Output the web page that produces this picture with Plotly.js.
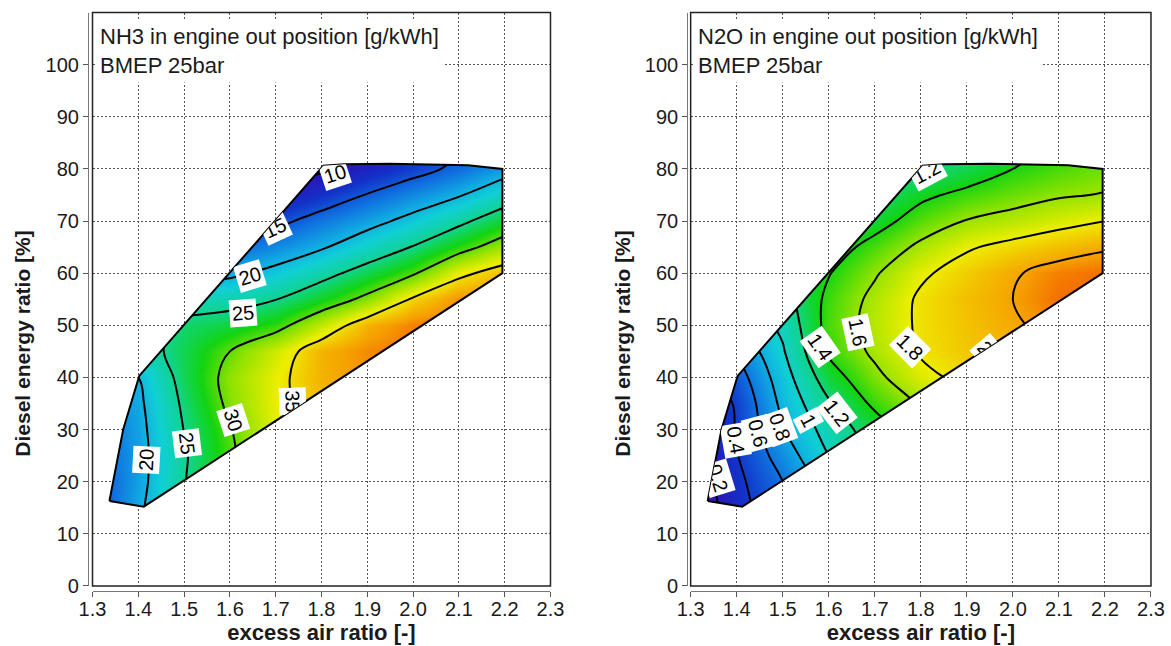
<!DOCTYPE html>
<html>
<head>
<meta charset="utf-8">
<script src="https://cdn.plot.ly/plotly-3.0.1.min.js"></script>
<style>
html,body{margin:0;padding:0;background:#ffffff;}
#plot{width:1171px;height:646px;}
</style>
</head>
<body>
<div id="plot"></div>
<script>
// ---------------- data ----------------
const airRatioGrid = [1.3, 1.4, 1.5, 1.6, 1.7, 1.8, 1.9, 2.0, 2.1, 2.2];
const dieselRatioGrid = [10, 15, 20, 25, 30, 35, 40, 45, 50, 55, 60, 65, 70, 75, 80, 85];

// NH3 engine out [g/kWh]; one row per diesel energy ratio, one column per excess air ratio
const nh3Values = [
  [13.0, 19.5, 24.3, 28.8, 32.0, 36.0, 37.0, 37.5, 38.0, 38.0],
  [13.5, 19.3, 24.5, 29.0, 32.5, 36.0, 37.0, 37.5, 38.0, 38.0],
  [14.0, 18.7, 24.8, 29.3, 33.0, 36.0, 37.0, 37.5, 38.0, 38.0],
  [14.5, 18.6, 24.6, 29.4, 33.5, 36.0, 37.0, 37.5, 38.0, 38.0],
  [15.0, 18.8, 25.1, 29.8, 34.0, 36.5, 37.5, 38.0, 38.5, 38.5],
  [16.0, 19.2, 25.7, 30.8, 34.2, 36.5, 37.5, 38.0, 38.5, 38.5],
  [17.0, 20.0, 26.5, 31.2, 34.2, 36.8, 38.0, 38.5, 39.0, 39.0],
  [20.0, 23.0, 26.6, 30.0, 33.2, 36.8, 38.2, 39.0, 39.5, 39.0],
  [20.0, 23.0, 25.9, 27.0, 28.8, 32.8, 36.8, 38.5, 39.0, 38.5],
  [19.0, 21.0, 23.0, 23.4, 24.9, 27.7, 30.9, 35.4, 38.0, 38.5],
  [16.0, 17.0, 18.0, 19.2, 21.1, 23.7, 26.6, 29.6, 34.2, 36.5],
  [14.0, 14.5, 15.0, 15.5, 17.5, 19.6, 22.4, 25.2, 28.6, 31.9],
  [11.5, 12.0, 12.5, 13.0, 14.0, 16.5, 18.7, 21.2, 24.1, 27.5],
  [10.0, 10.0, 10.5, 10.5, 10.5, 12.7, 15.2, 17.5, 19.7, 22.8],
  [ 9.0,  9.0,  9.0,  9.0,  9.0,  9.5, 11.4, 13.6, 15.9, 18.5],
  [ 9.0,  9.0,  9.0,  9.0,  9.0,  8.5, 10.2, 12.2, 14.3, 17.0]
];

// N2O engine out [g/kWh]
const n2oValues = [
  [0.00, 0.30, 0.53, 0.80, 1.05, 1.25, 1.45, 1.60, 1.70, 1.75],
  [0.02, 0.32, 0.56, 0.85, 1.10, 1.30, 1.50, 1.65, 1.75, 1.80],
  [0.05, 0.35, 0.60, 0.90, 1.15, 1.40, 1.55, 1.70, 1.80, 1.85],
  [0.10, 0.39, 0.69, 1.00, 1.25, 1.48, 1.62, 1.75, 1.85, 1.88],
  [0.15, 0.41, 0.79, 1.08, 1.30, 1.55, 1.70, 1.80, 1.88, 1.90],
  [0.20, 0.42, 0.85, 1.18, 1.44, 1.62, 1.75, 1.85, 1.90, 1.90],
  [0.30, 0.50, 0.91, 1.31, 1.55, 1.75, 1.85, 1.90, 1.95, 1.95],
  [0.50, 0.63, 0.98, 1.43, 1.64, 1.82, 1.90, 1.95, 2.00, 2.00],
  [0.70, 0.85, 1.04, 1.47, 1.67, 1.83, 1.91, 1.98, 2.05, 2.05],
  [0.90, 1.00, 1.12, 1.45, 1.65, 1.83, 1.92, 2.00, 2.10, 2.12],
  [1.10, 1.15, 1.25, 1.39, 1.58, 1.77, 1.88, 1.98, 2.07, 2.10],
  [1.20, 1.22, 1.25, 1.30, 1.47, 1.64, 1.78, 1.855, 1.92, 1.98],
  [1.20, 1.20, 1.20, 1.27, 1.32, 1.49, 1.61, 1.67, 1.74, 1.80],
  [1.15, 1.15, 1.15, 1.15, 1.20, 1.36, 1.45, 1.52, 1.58, 1.61],
  [1.10, 1.10, 1.10, 1.10, 1.10, 1.17, 1.28, 1.40, 1.47, 1.53],
  [1.10, 1.10, 1.10, 1.10, 1.10, 1.10, 1.20, 1.32, 1.42, 1.50]
];

// measured operating-range boundary (excess air ratio, diesel energy ratio)
const boundaryAir    = [1.337, 1.412, 2.195, 2.195, 2.12, 1.95, 1.85, 1.804, 1.402, 1.367, 1.345, 1.337];
const boundaryDiesel = [16.3,  15.2,  60.0,  80.0,  80.7, 81.0, 80.9, 80.6,  40.3,  30.0,  20.0,  16.3];

const nh3Levels = {start: 10, end: 35, size: 5};
const n2oLevels = {start: 0.2, end: 2.0, size: 0.2};
const nh3ColorRange = [8, 40.5];
const n2oColorRange = [0.05, 2.2];

// contour labels as placed in the reference
const nh3LabelLevels = [10, 15, 20, 25, 20, 25, 30, 35];
const nh3LabelAir    = [1.829, 1.698, 1.644, 1.629, 1.417, 1.506, 1.607, 1.736];
const nh3LabelDiesel = [79.0, 68.7, 59.4, 52.4, 24.2, 27.4, 31.8, 35.4];
const nh3LabelAngle  = [-18, -25, -17, -4, -87, 83, 72, 88];

const n2oLabelLevels = [0.2, 0.4, 0.6, 0.8, 1.0, 1.2, 1.4, 1.6, 1.8, 2.0, 1.2];
const n2oLabelAir    = [1.359, 1.398, 1.446, 1.494, 1.555, 1.618, 1.581, 1.663, 1.776, 1.939, 1.813];
const n2oLabelDiesel = [20.7, 28.0, 29.3, 30.5, 31.8, 33.2, 45.8, 48.7, 45.8, 45.6, 79.4];
const n2oLabelAngle  = [73, 80, 75, 70, 62, 52, 55, 78, 45, 50, -28];

const xTickValues = [1.3, 1.4, 1.5, 1.6, 1.7, 1.8, 1.9, 2.0, 2.1, 2.2, 2.3];
const yTickValues = [0, 10, 20, 30, 40, 50, 60, 70, 80, 90, 100];

const panelTexts = [
  'NH3 in engine out position [g/kWh]<br>BMEP 25bar',
  'N2O in engine out position [g/kWh]<br>BMEP 25bar'
];
const xTitle = 'excess air ratio [-]';
const yTitle = 'Diesel energy ratio [%]';

const colorScale = [
  [0.00, '#6a12b4'],
  [0.07, '#2a16b8'],
  [0.15, '#1232c8'],
  [0.25, '#1070e0'],
  [0.35, '#10aee2'],
  [0.42, '#10cfd6'],
  [0.52, '#10d492'],
  [0.62, '#12d412'],
  [0.71, '#8ee200'],
  [0.81, '#eeee00'],
  [0.91, '#f6a000'],
  [1.00, '#f23c00']
];

// ---------------- figure ----------------
const FONT = 'Liberation Sans, Arial, Helvetica, sans-serif';

function contourTrace(z, levels, crange, xa, ya) {
  return {
    type: 'contour',
    x: airRatioGrid, y: dieselRatioGrid, z: z,
    xaxis: xa, yaxis: ya,
    colorscale: colorScale, zmin: crange[0], zmax: crange[1], zauto: false,
    showscale: false, autocontour: false,
    contours: {coloring: 'heatmap', start: levels.start, end: levels.end, size: levels.size, showlabels: false},
    line: {color: '#000', width: 2, smoothing: 1},
    hoverinfo: 'skip'
  };
}
function outlineTrace(xa, ya) {
  return {type: 'scatter', mode: 'lines', x: boundaryAir, y: boundaryDiesel,
    xaxis: xa, yaxis: ya, line: {color: '#000', width: 2}, hoverinfo: 'skip'};
}

const data = [
  contourTrace(nh3Values, nh3Levels, nh3ColorRange, 'x', 'y'),
  outlineTrace('x', 'y'),
  contourTrace(n2oValues, n2oLevels, n2oColorRange, 'x2', 'y2'),
  outlineTrace('x2', 'y2')
];

function xAxisDef(domain) {
  return {
    domain: domain, range: [1.3, 2.3], anchor: 'free', position: 0.0851,
    tickvals: xTickValues, ticktext: xTickValues.map(v => v.toFixed(1)),
    ticks: 'outside', ticklen: 5, tickcolor: '#555', tickwidth: 1,
    ticklabelstandoff: -5,
    showline: true, linecolor: '#777', linewidth: 1,
    showgrid: true, gridcolor: '#555', griddash: '2px,2px', gridwidth: 1,
    zeroline: false, fixedrange: true,
    tickfont: {family: FONT, size: 20, color: '#1a1a1a'},
    title: {text: xTitle, standoff: 4, font: {family: FONT, size: 22, color: '#1a1a1a', weight: 'bold'}}
  };
}
function yAxisDef(domain, pos) {
  return {
    domain: domain, range: [0, 110], anchor: 'free', position: pos,
    tickvals: yTickValues,
    ticks: 'outside', ticklen: 5, tickcolor: '#555', tickwidth: 1,
    showline: true, linecolor: '#777', linewidth: 1,
    showgrid: true, gridcolor: '#555', griddash: '2px,2px', gridwidth: 1,
    zeroline: false, fixedrange: true,
    tickfont: {family: FONT, size: 20, color: '#1a1a1a'}
  };
}

const annotations = [];
[0, 1].forEach(i => {
  annotations.push({xref: i ? 'x2 domain' : 'x domain', yref: i ? 'y2 domain' : 'y domain',
    x: 0.006, y: 0.988, xanchor: 'left', yanchor: 'top',
    text: panelTexts[i], showarrow: false, align: 'left', bgcolor: '#ffffff', borderpad: 4,
    font: {family: FONT, size: 22, color: '#1a1a1a'}});
});
[21.7 / 1171, 621.7 / 1171].forEach(xp => {
  annotations.push({xref: 'paper', yref: 'paper', x: xp, y: 1 - 344 / 646,
    xanchor: 'center', yanchor: 'middle', textangle: -90, showarrow: false,
    text: yTitle, font: {family: FONT, size: 21, color: '#1a1a1a', weight: 'bold'}});
});
const labelStart = annotations.length;
const labelPanel = [];
function addLabels(levels, xs, ys, angs, fmt, xr, yr, panel) {
  levels.forEach((lv, k) => {
    annotations.push({xref: xr, yref: yr, x: xs[k], y: ys[k], xanchor: 'center', yanchor: 'middle',
      text: fmt(lv), textangle: angs[k], showarrow: false, bgcolor: '#ffffff', borderpad: 2,
      font: {family: FONT, size: 20, color: '#000'}});
    labelPanel.push(panel);
  });
}
addLabels(nh3LabelLevels, nh3LabelAir, nh3LabelDiesel, nh3LabelAngle, v => String(v), 'x', 'y', 0);
addLabels(n2oLabelLevels, n2oLabelAir, n2oLabelDiesel, n2oLabelAngle, v => String(+v.toFixed(1)), 'x2', 'y2', 1);

const yDom = [0.093, 0.9805];
const layout = {
  width: 1171, height: 646,
  margin: {l: 0, r: 0, t: 0, b: 0, autoexpand: false},
  paper_bgcolor: '#ffffff', plot_bgcolor: '#ffffff',
  showlegend: false,
  font: {family: FONT, size: 20, color: '#1a1a1a'},
  xaxis: xAxisDef([0.0790, 0.4701]),
  yaxis: yAxisDef(yDom, 0.0751),
  xaxis2: xAxisDef([0.5898, 0.9829]),
  yaxis2: yAxisDef(yDom, 0.5868),
  shapes: [
    {type: 'rect', xref: 'x domain', yref: 'y domain', x0: 0, x1: 1, y0: 0, y1: 1,
     line: {color: '#222', width: 1.5}, fillcolor: 'rgba(0,0,0,0)', layer: 'above'},
    {type: 'rect', xref: 'x2 domain', yref: 'y2 domain', x0: 0, x1: 1, y0: 0, y1: 1,
     line: {color: '#222', width: 1.5}, fillcolor: 'rgba(0,0,0,0)', layer: 'above'}
  ],
  annotations: annotations
};

const SVGNS = 'http://www.w3.org/2000/svg';
function makeClip(defs, id, d) {
  const cp = document.createElementNS(SVGNS, 'clipPath');
  cp.setAttribute('id', id);
  const p = document.createElementNS(SVGNS, 'path');
  p.setAttribute('d', d);
  cp.appendChild(p);
  defs.appendChild(cp);
}
function finishDrawing(gd) {
  const fl = gd._fullLayout;
  const svg = gd.querySelector('svg.main-svg');
  let defs = svg.querySelector('defs');
  if (!defs) { defs = document.createElementNS(SVGNS, 'defs'); svg.insertBefore(defs, svg.firstChild); }
  [['xy', 'xaxis', 'yaxis'], ['x2y2', 'xaxis2', 'yaxis2']].forEach((s, i) => {
    const xa = fl[s[1]], ya = fl[s[2]];
    const pathFor = (ox, oy) => boundaryAir.map((v, j) => (j ? 'L' : 'M') +
      (ox + xa.c2p(v)).toFixed(2) + ',' + (oy + ya.c2p(boundaryDiesel[j])).toFixed(2)).join('') + 'Z';
    makeClip(defs, 'range-clip-' + i, pathFor(0, 0));
    makeClip(defs, 'range-clip-abs-' + i, pathFor(xa._offset, ya._offset));
    const layer = gd.querySelector('.subplot.' + s[0] + ' .contourlayer');
    if (layer) layer.setAttribute('clip-path', 'url(#range-clip-' + i + ')');
  });
  gd.querySelectorAll('g.annotation').forEach(g => {
    const idx = +g.getAttribute('data-index');
    if (idx >= labelStart) {
      g.setAttribute('clip-path', 'url(#range-clip-abs-' + labelPanel[idx - labelStart] + ')');
    }
  });
}

Plotly.newPlot('plot', data, layout, {displayModeBar: false, staticPlot: true}).then(finishDrawing);
</script>
</body>
</html>
